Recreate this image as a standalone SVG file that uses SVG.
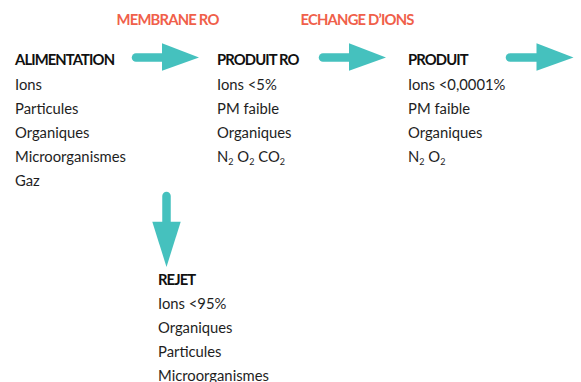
<svg xmlns="http://www.w3.org/2000/svg" width="581" height="382" viewBox="0 0 581 382">
  <style>
    .t { font-family: Lato, "Open Sans", sans-serif; font-size: 14.8px; fill: #1e1e1e; }
    .h { font-family: Lato, "Open Sans", sans-serif; font-size: 14.8px; font-weight: bold; fill: #111; letter-spacing: -0.9px; }
    .lbl { font-family: Lato, "Open Sans", sans-serif; font-size: 14.8px; font-weight: bold; fill: #f0604a; letter-spacing: -0.8px; }
    .sub { font-size: 9px; }
    .shaft { stroke: #45c1be; stroke-width: 8.5; stroke-linecap: round; fill: none; }
    .head { fill: #45c1be; }
  </style>

  <!-- process labels above the arrows -->
  <text class="lbl" x="116.5" y="25">MEMBRANE RO</text>
  <text class="lbl" x="300.5" y="25">ECHANGE D’IONS</text>

  <!-- connectors -->
  <g id="connectors">
    <g id="arrow-membrane">
      <line class="shaft" x1="136" y1="57.5" x2="164" y2="57.5"/>
      <polygon class="head" points="162,43.3 199,57.5 162,70.7"/>
    </g>
    <g id="arrow-echange">
      <line class="shaft" x1="323" y1="57.5" x2="351" y2="57.5"/>
      <polygon class="head" points="349,43.3 386,57.5 349,70.7"/>
    </g>
    <g id="arrow-sortie">
      <line class="shaft" x1="510" y1="57.5" x2="538" y2="57.5"/>
      <polygon class="head" points="536.5,43.3 573.5,57.5 536.5,70.7"/>
    </g>
    <g id="arrow-rejet">
      <line class="shaft" x1="166.5" y1="196" x2="166.5" y2="224"/>
      <polygon class="head" points="152.3,221.7 180.7,221.7 166.5,267"/>
    </g>
  </g>

  <!-- feed water -->
  <g id="alimentation">
    <text class="h" x="15" y="65">ALIMENTATION</text>
    <text class="t" x="15" y="89.5">Ions</text>
    <text class="t" x="15" y="113.5">Particules</text>
    <text class="t" x="15" y="137.5">Organiques</text>
    <text class="t" x="15" y="161.5">Microorganismes</text>
    <text class="t" x="15" y="185.5">Gaz</text>
  </g>

  <!-- RO permeate -->
  <g id="produit-ro">
    <text class="h" x="217" y="65">PRODUIT RO</text>
    <text class="t" x="217" y="89.5">Ions &lt;5%</text>
    <text class="t" x="217" y="113.5">PM faible</text>
    <text class="t" x="217" y="137.5">Organiques</text>
    <text class="t" x="217" y="161.5">N<tspan class="sub" dy="3.5">2</tspan><tspan dy="-3.5"> O</tspan><tspan class="sub" dy="3.5">2</tspan><tspan dy="-3.5"> CO</tspan><tspan class="sub" dy="3.5">2</tspan></text>
  </g>

  <!-- final product after ion exchange -->
  <g id="produit">
    <text class="h" x="408" y="65">PRODUIT</text>
    <text class="t" x="408" y="89.5">Ions &lt;0,0001%</text>
    <text class="t" x="408" y="113.5">PM faible</text>
    <text class="t" x="408" y="137.5">Organiques</text>
    <text class="t" x="408" y="161.5">N<tspan class="sub" dy="3.5">2</tspan><tspan dy="-3.5"> O</tspan><tspan class="sub" dy="3.5">2</tspan></text>
  </g>

  <!-- concentrate -->
  <g id="rejet">
    <text class="h" x="158" y="284.5">REJET</text>
    <text class="t" x="158" y="308.5">Ions &lt;95%</text>
    <text class="t" x="158" y="332.5">Organiques</text>
    <text class="t" x="158" y="356.5">Particules</text>
    <text class="t" x="158" y="380.5">Microorganismes</text>
  </g>
</svg>
